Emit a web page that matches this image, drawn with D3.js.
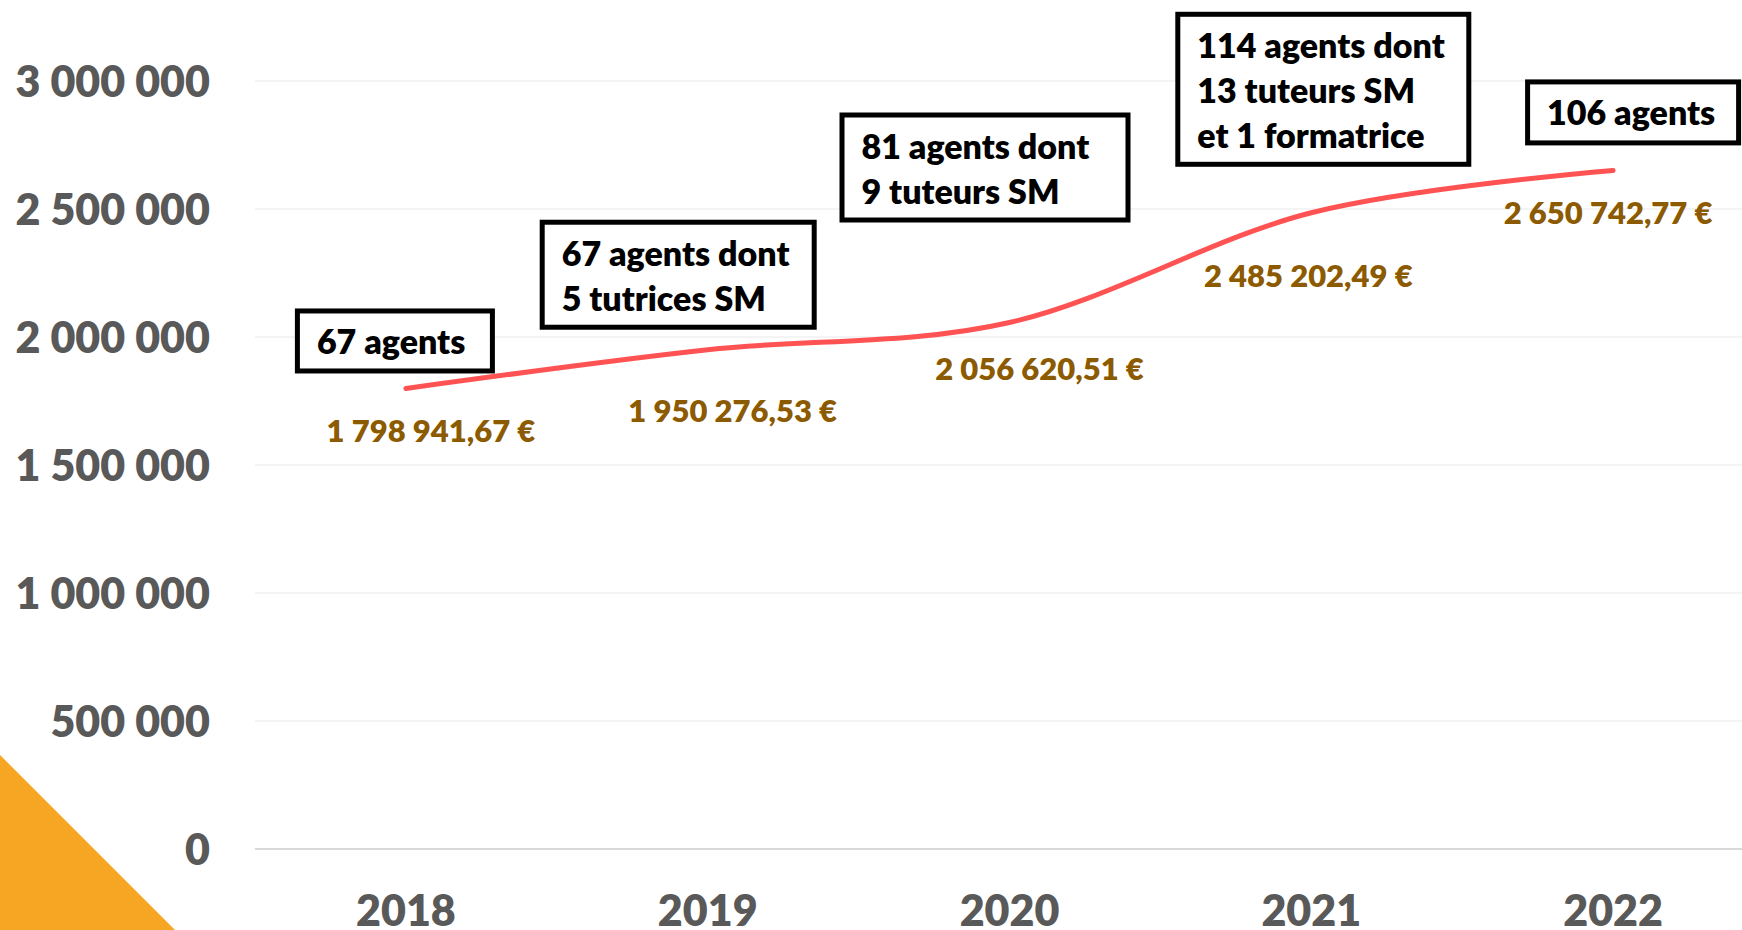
<!DOCTYPE html>
<html>
<head>
<meta charset="utf-8">
<script src="https://cdn.jsdelivr.net/npm/d3@7"></script>
<style>
    html, body { margin: 0; padding: 0; background: #ffffff; overflow: hidden; }
    svg { display: block; font-family: Lato, "Open Sans", sans-serif; font-weight: 700; }
</style>
</head>
<body>
<div id="chart"></div>
<script>
// data
const years = ["2018", "2019", "2020", "2021", "2022"];
const costs = [1798941.67, 1950276.53, 2056620.51, 2485202.49, 2650742.77];
const costLabels = ["1 798 941,67 €", "1 950 276,53 €", "2 056 620,51 €", "2 485 202,49 €", "2 650 742,77 €"];
const yTicks = [0, 500000, 1000000, 1500000, 2000000, 2500000, 3000000];
const notes = [
    ["67 agents"],
    ["67 agents dont", "5 tutrices SM"],
    ["81 agents dont", "9 tuteurs SM"],
    ["114 agents dont", "13 tuteurs SM", "et 1 formatrice"],
    ["106 agents"]
];

// layout of labels and boxes, relative to each point
const labelOffset = [[25, 42], [25, 61], [30, 46], [-3, 63], [-5, 42]];
const noteBox = [
    {dx: -111, dy: -80, w: 200, h: 65},
    {dx: -168, dy: -130, w: 277, h: 110},
    {dx: -170, dy: -210, w: 291, h: 110},
    {dx: -136, dy: -201, w: 296, h: 155},
    {dx: -88, dy: -91, w: 216, h: 66}
];

const width = 1742;
const height = 930;

const svg = d3.select("#chart")
    .append("svg")
    .attr("width", width)
    .attr("height", height);

// orange corner
svg.append("path")
    .attr("d", "M0,755 L175,930 L0,930 Z")
    .attr("fill", "#f6a623");

const x = d3.scaleBand()
    .domain(years)
    .range([255, 1764]);

const y = d3.scaleLinear()
    .domain([0, 3000000])
    .range([849, 81]);

const xc = (d) => x(d) + x.bandwidth() / 2;

// grid
svg.append("g")
    .selectAll("line")
    .data(yTicks.slice(1))
    .enter()
    .append("line")
    .attr("x1", 255)
    .attr("x2", 1764)
    .attr("y1", (d) => y(d))
    .attr("y2", (d) => y(d))
    .attr("stroke", "#f0f0f0")
    .attr("stroke-width", 1.5);

svg.append("line")
    .attr("x1", 255)
    .attr("x2", 1764)
    .attr("y1", y(0))
    .attr("y2", y(0))
    .attr("stroke", "#d9d9d9")
    .attr("stroke-width", 2);

// y axis labels
const fmt = (v) => d3.format(",")(v).replace(/,/g, " ");
const yAxis = d3.axisLeft(y).tickValues(yTicks).tickFormat(fmt).tickSize(0).tickPadding(0);
const yg = svg.append("g").attr("transform", "translate(210,0)").call(yAxis);
yg.select(".domain").remove();
yg.selectAll("text")
    .attr("fill", "#595959")
    .attr("font-size", 43)
    .attr("font-family", "Lato, 'Open Sans', sans-serif")
    .attr("font-weight", 800)
    .attr("dy", "0.36em");

// x axis labels
const xAxis = d3.axisBottom(x).tickSize(0).tickPadding(0);
const xg = svg.append("g").attr("transform", "translate(0,849)").call(xAxis);
xg.select(".domain").remove();
xg.selectAll("text")
    .attr("fill", "#595959")
    .attr("font-size", 43)
    .attr("font-family", "Lato, 'Open Sans', sans-serif")
    .attr("font-weight", 800)
    .attr("dy", null)
    .attr("y", 77);

// line
const line = d3.line()
    .x((d, i) => xc(years[i]))
    .y((d) => y(d))
    .curve(d3.curveCardinal.tension(0));

svg.append("path")
    .datum(costs)
    .attr("d", line)
    .attr("fill", "none")
    .attr("stroke", "#ff5353")
    .attr("stroke-width", 5)
    .attr("stroke-linecap", "round");

// value labels
svg.append("g")
    .selectAll("text")
    .data(costs)
    .enter()
    .append("text")
    .attr("x", (d, i) => xc(years[i]) + labelOffset[i][0])
    .attr("y", (d, i) => y(d) + labelOffset[i][1])
    .attr("dy", "0.36em")
    .attr("text-anchor", "middle")
    .attr("font-size", 31)
    .attr("font-weight", 800)
    .attr("fill", "#8c5a00")
    .text((d, i) => costLabels[i]);

// note boxes
const boxes = svg.append("g")
    .selectAll("g")
    .data(notes)
    .enter()
    .append("g")
    .attr("transform", (d, i) => {
        const bx = xc(years[i]) + noteBox[i].dx;
        const by = y(costs[i]) + noteBox[i].dy;
        return `translate(${bx},${by})`;
    });

boxes.append("rect")
    .attr("x", 2.5)
    .attr("y", 2.5)
    .attr("width", (d, i) => noteBox[i].w - 5)
    .attr("height", (d, i) => noteBox[i].h - 5)
    .attr("fill", "#ffffff")
    .attr("stroke", "#000000")
    .attr("stroke-width", 5);

boxes.selectAll("text")
    .data((d) => d)
    .enter()
    .append("text")
    .attr("x", 22)
    .attr("y", (d, j) => 46 + j * 45)
    .attr("font-size", 34)
    .attr("font-weight", 800)
    .attr("fill", "#000000")
    .text((d) => d);
</script>
</body>
</html>
